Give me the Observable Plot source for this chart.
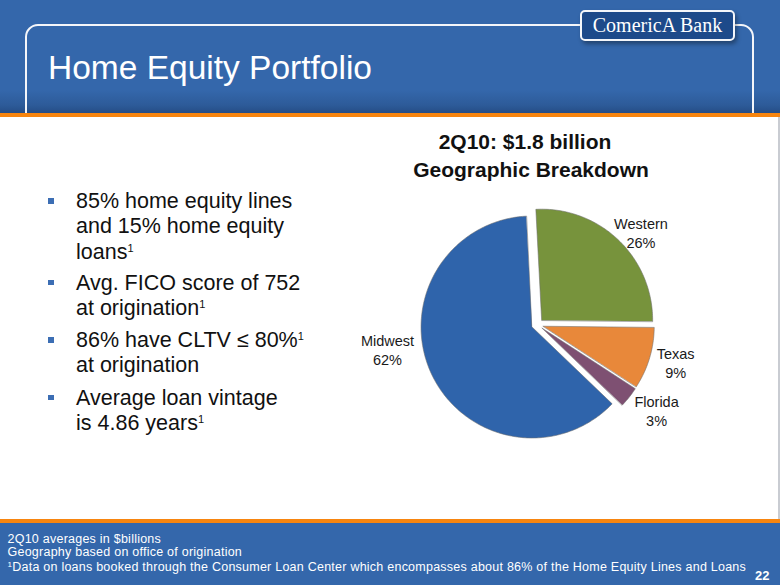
<!DOCTYPE html>
<html>
<head>
<meta charset="utf-8">
<script src="https://cdn.jsdelivr.net/npm/d3@7"></script>
<script src="https://cdn.jsdelivr.net/npm/@observablehq/plot@0.6"></script>
<style>
  html, body { margin: 0; padding: 0; background: #fff; }
  #slide { position: relative; width: 780px; height: 585px; overflow: hidden; background: #fff;
           font-family: "Liberation Sans", Arial, sans-serif; }
  #header { position: absolute; left: 0; top: 0; width: 780px; height: 113px; overflow: hidden;
            background: linear-gradient(to bottom, #3467ab 0%, #3467ab 80%, #2d5b99 93%, #254d86 100%); }
  #frame { position: absolute; left: 25px; top: 24.3px; width: 729px; height: 160px; box-sizing: border-box;
           border: 2px solid #f4f6fa; border-radius: 13px; }
  #title { position: absolute; left: 48px; top: 51px; font-size: 33.5px; line-height: 33.5px; color: #fff; white-space: nowrap; }
  #logo { position: absolute; left: 580px; top: 10px; width: 155px; height: 31px; box-sizing: border-box;
          background: #1d4a8a; border: 2px solid #f4f6fa; border-radius: 5px;
          box-shadow: 2px 3px 4px rgba(0,0,0,0.35);
          font-family: "Liberation Serif", "DejaVu Serif", serif; font-size: 20px; line-height: 26px;
          color: #fff; text-align: center; white-space: nowrap; }
  .orange { position: absolute; left: 0; width: 780px; height: 4px; background: #f7850f; }
  #footer { position: absolute; left: 0; top: 523px; width: 780px; height: 62px; background: #3467ab; }
  .fn { position: absolute; left: 7.5px; font-size: 12.5px; line-height: 11px; letter-spacing: 0.24px; color: #fff; white-space: nowrap; }
  .fn sup, .bl sup { line-height: 0; }
  .fn sup { font-size: 8px; vertical-align: 4px; }
  #page { position: absolute; left: 755px; top: 569px; font-size: 13px; line-height: 13px; font-weight: bold; color: #fff; }
  .bl { position: absolute; left: 76px; font-size: 21.5px; line-height: 25.3px; color: #111; white-space: nowrap; }
  .bl::before { content: ""; position: absolute; left: -28px; top: 9px; width: 6px; height: 5.5px; background: #3c6eb4; }
  .bl sup { font-size: 11px; vertical-align: 7px; }
  .ct { position: absolute; width: 320px; text-align: center; font-size: 21px; line-height: 21px; font-weight: bold; color: #111; white-space: nowrap; }
  #pie { position: absolute; left: 340px; top: 185px; }
  #edge { position: absolute; left: 778px; top: 117px; width: 2px; height: 402px; background: #c9ccd2; }
</style>
</head>
<body>
<div id="slide">
  <div id="header">
    <div id="frame"></div>
    <div id="title">Home Equity Portfolio</div>
    <div id="logo">ComericA Bank</div>
  </div>
  <div class="orange" style="top:113px"></div>
  <div id="edge"></div>

  <div class="bl" style="top:189.2px">85% home equity lines<br>and 15% home equity<br>loans<sup>1</sup></div>
  <div class="bl" style="top:270.9px">Avg. FICO score of 752<br>at origination<sup>1</sup></div>
  <div class="bl" style="top:328.2px">86% have CLTV ≤ 80%<sup>1</sup><br>at origination</div>
  <div class="bl" style="top:385.6px">Average loan vintage<br>is 4.86 years<sup>1</sup></div>

  <div class="ct" style="left:365px; top:130.5px">2Q10: $1.8 billion</div>
  <div class="ct" style="left:371px; top:158.9px">Geographic Breakdown</div>

  <div id="pie"></div>

  <div class="orange" style="top:519px"></div>
  <div id="footer"></div>
  <div class="fn" style="top:534.2px">2Q10 averages in $billions</div>
  <div class="fn" style="top:547.2px">Geography based on office of origination</div>
  <div class="fn" style="top:562.2px"><sup>1</sup>Data on loans booked through the Consumer Loan Center which encompasses about 86% of the Home Equity Lines and Loans</div>
  <div id="page">22</div>
</div>

<script>
// ---- data ----
const regions = ["Western", "Texas", "Florida", "Midwest"];
const shares = [26, 9, 3, 62]; // percent of 2Q10 home equity portfolio ($1.8 billion)

// ---- layout / style ----
const W = 380, H = 260;        // svg size
const CX = 197, CY = 139;      // pie centre within the svg (px)
const R = 111;                 // pie radius (px)
const startDeg = -3;           // first slice angle, clockwise from 12 o'clock
const explode = 6 / R;         // every slice pulled out by 6px
const sliceColors = ["#77933c", "#e8883a", "#7e5072", "#2f64ab"];
const labelRadius = 1.3;
const labelNudge = { Western: [3.6, 12.4], Texas: [0, -4.2], Florida: [6, -3.6], Midwest: [-18.8, -35.2] };

const total = d3.sum(shares);
let acc = startDeg;
const slices = regions.map((name, i) => {
  const a0 = acc, a1 = acc + shares[i] / total * 360;
  acc = a1;
  return { name, value: shares[i], a0, a1, mid: (a0 + a1) / 2 };
});
const rad = (d) => d * Math.PI / 180;

const outline = slices.flatMap((s) => {
  const m = rad(s.mid);
  const ox = explode * Math.sin(m), oy = explode * Math.cos(m);
  const n = Math.max(2, Math.ceil(s.a1 - s.a0));
  const pts = [{ name: s.name, x: ox, y: oy }];
  for (let k = 0; k <= n; ++k) {
    const a = rad(s.a0 + (s.a1 - s.a0) * k / n);
    pts.push({ name: s.name, x: ox + Math.sin(a), y: oy + Math.cos(a) });
  }
  return pts;
});

const labels = slices.map((s) => {
  const m = rad(s.mid);
  const [nx, ny] = labelNudge[s.name];
  return {
    text: `${s.name}\n${s.value}%`,
    x: labelRadius * Math.sin(m) + nx / R,
    y: labelRadius * Math.cos(m) - ny / R
  };
});

const chart = Plot.plot({
  width: W,
  height: H,
  margin: 0,
  style: { fontFamily: "'Liberation Sans', Arial, sans-serif", background: "transparent", overflow: "visible" },
  x: { domain: [-CX / R, (W - CX) / R], axis: null },
  y: { domain: [-(H - CY) / R, CY / R], axis: null },
  color: { domain: regions, range: sliceColors },
  marks: [
    Plot.line(outline, { x: "x", y: "y", z: "name", fill: "name", stroke: "#6e6e6e", strokeWidth: 0.7, strokeOpacity: 0.8, curve: "linear-closed" }),
    Plot.text(labels, { x: "x", y: "y", text: "text", fontSize: 14.5, lineHeight: 1.31, fill: "#1a1a1a" })
  ]
});
document.getElementById("pie").appendChild(chart);
</script>
</body>
</html>
